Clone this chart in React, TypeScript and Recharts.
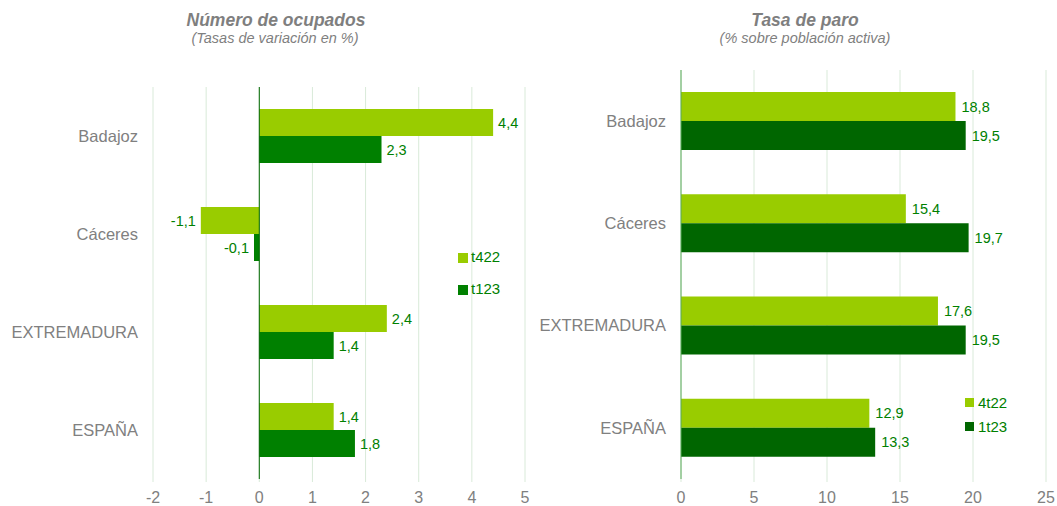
import React from 'react';
import { BarChart, Bar, XAxis, YAxis, CartesianGrid, ReferenceLine, LabelList } from 'recharts';

const categories = ['Badajoz', 'Cáceres', 'EXTREMADURA', 'ESPAÑA'];
const ocupados4t22 = [4.4, -1.1, 2.4, 1.4];
const ocupados1t23 = [2.3, -0.1, 1.4, 1.8];
const paro4t22 = [18.8, 15.4, 17.6, 12.9];
const paro1t23 = [19.5, 19.7, 19.5, 13.3];
const leftTicks = [-2, -1, 0, 1, 2, 3, 4, 5];
const rightTicks = [0, 5, 10, 15, 20, 25];
const leftLegend = ['t422', 't123'];
const rightLegend = ['4t22', '1t23'];

const leftData = categories.map((name, i) => ({ name, a: ocupados4t22[i], b: ocupados1t23[i] }));
const rightData = categories.map((name, i) => ({ name, a: paro4t22[i], b: paro1t23[i] }));

const FONT = '"Liberation Sans", Arial, sans-serif';
const GRAY = '#808080';
const LABEL = '#008000';
const GRID = '#d9ead9';
const LIGHT = '#99CC00';
const DARK_L = '#008000';
const DARK_R = '#006600';

const fmt = (v: any) => String(v).replace('.', ',');

export default function App() {
  return (
    <div style={{ position: 'absolute', left: 0, top: 0, width: 1057, height: 506, fontFamily: FONT, background: '#fff' }}>
      <div style={{ position: 'absolute', left: 0, top: 0 }}>
        <BarChart
          layout="vertical"
          width={540}
          height={506}
          data={leftData}
          margin={{ top: 87, right: 15, bottom: 0, left: 0 }}
          barGap={0}
        >
          <CartesianGrid horizontal={false} stroke={GRID} />
          <XAxis
            type="number"
            domain={[-2, 5]}
            ticks={leftTicks}
            interval={0}
            height={27}
            axisLine={false}
            tickLine={{ stroke: GRID }}
            tickSize={3}
            tickMargin={10}
            tick={{ fill: GRAY, fontSize: 16, fontFamily: FONT }}
          />
          <YAxis
            type="category"
            dataKey="name"
            width={153}
            axisLine={false}
            tickLine={false}
            tickSize={0}
            tickMargin={15}
            tick={{ fill: GRAY, fontSize: 16.5, fontFamily: FONT }}
          />
          <ReferenceLine x={0} stroke={DARK_R} strokeWidth={1} />
          <Bar dataKey="a" fill={LIGHT} barSize={27} isAnimationActive={false}>
            <LabelList dataKey="a" position="right" offset={5} formatter={fmt} fill={LABEL} fontSize={14.5} fontFamily={FONT} />
          </Bar>
          <Bar dataKey="b" fill={DARK_L} barSize={27} isAnimationActive={false}>
            <LabelList dataKey="b" position="right" offset={5} formatter={fmt} fill={LABEL} fontSize={14.5} fontFamily={FONT} />
          </Bar>
        </BarChart>
      </div>
      <div style={{ position: 'absolute', left: 530, top: 0 }}>
        <BarChart
          layout="vertical"
          width={527}
          height={506}
          data={rightData}
          margin={{ top: 70, right: 11, bottom: 0, left: 0 }}
          barGap={0}
        >
          <CartesianGrid horizontal={false} stroke={GRID} />
          <XAxis
            type="number"
            domain={[0, 25]}
            ticks={rightTicks}
            interval={0}
            height={27}
            axisLine={false}
            tickLine={{ stroke: GRID }}
            tickSize={3}
            tickMargin={10}
            tick={{ fill: GRAY, fontSize: 16, fontFamily: FONT }}
          />
          <YAxis
            type="category"
            dataKey="name"
            width={151}
            axisLine={{ stroke: '#5aaa5a' }}
            tickLine={false}
            tickSize={0}
            tickMargin={15}
            tick={{ fill: GRAY, fontSize: 16.5, fontFamily: FONT }}
          />
          <Bar dataKey="a" fill={LIGHT} barSize={29} isAnimationActive={false}>
            <LabelList dataKey="a" position="right" offset={6} formatter={fmt} fill={LABEL} fontSize={14.5} fontFamily={FONT} />
          </Bar>
          <Bar dataKey="b" fill={DARK_R} barSize={29} isAnimationActive={false}>
            <LabelList dataKey="b" position="right" offset={6} formatter={fmt} fill={LABEL} fontSize={14.5} fontFamily={FONT} />
          </Bar>
        </BarChart>
      </div>
      <svg width={1057} height={506} style={{ position: 'absolute', left: 0, top: 0, pointerEvents: 'none' }}>
        <g fontFamily={FONT} fill="#7f7f7f" textAnchor="middle">
          <text x={276} y={26} fontSize={17.5} fontWeight="bold" fontStyle="italic">Número de ocupados</text>
          <text x={275} y={43} fontSize={14.5} fontStyle="italic">(Tasas de variación en %)</text>
          <text x={805} y={26} fontSize={17.5} fontWeight="bold" fontStyle="italic">Tasa de paro</text>
          <text x={805} y={43} fontSize={14.5} fontStyle="italic">(% sobre población activa)</text>
        </g>
        <g fontFamily={FONT} fontSize={15} fill={LABEL}>
          <rect x={458} y={253} width={10} height={10} fill={LIGHT} />
          <text x={471} y={262}>{leftLegend[0]}</text>
          <rect x={458} y={285} width={10} height={10} fill={DARK_L} />
          <text x={471} y={294}>{leftLegend[1]}</text>
          <rect x={965} y={398} width={9} height={9} fill={LIGHT} />
          <text x={978} y={408}>{rightLegend[0]}</text>
          <rect x={965} y={422} width={9} height={9} fill={DARK_R} />
          <text x={978} y={432}>{rightLegend[1]}</text>
        </g>
      </svg>
    </div>
  );
}
